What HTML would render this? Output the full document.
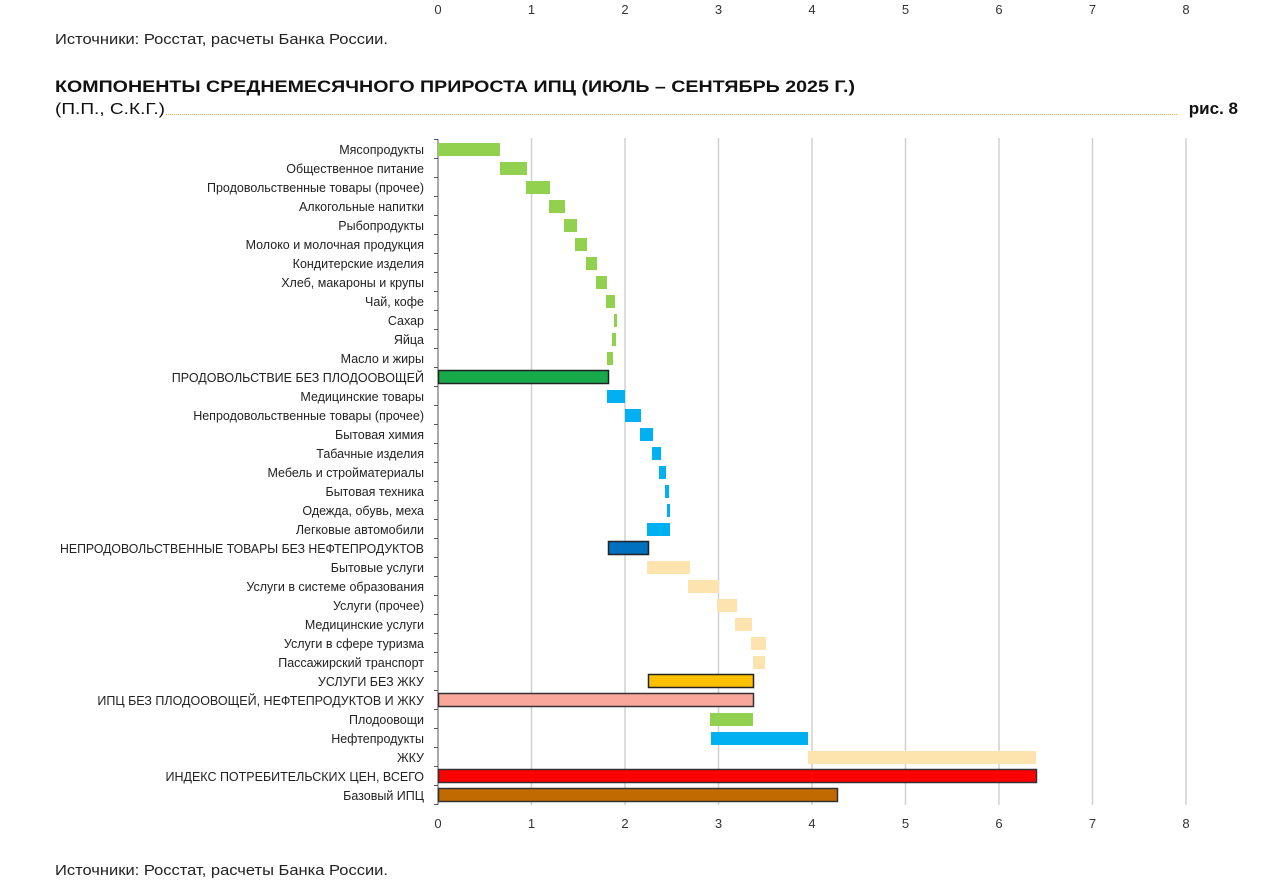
<!DOCTYPE html>
<html><head><meta charset="utf-8"><style>
body{margin:0;background:#fff;width:1280px;height:888px;overflow:hidden;font-family:"Liberation Sans",sans-serif;}
</style></head><body>
<svg width="1280" height="888" xmlns="http://www.w3.org/2000/svg" font-family="Liberation Sans, sans-serif">
<g font-size="13" fill="#333" text-anchor="middle">
<text x="438" y="14">0</text><text x="531.5" y="14">1</text><text x="625" y="14">2</text><text x="718.5" y="14">3</text><text x="812" y="14">4</text><text x="905.5" y="14">5</text><text x="999" y="14">6</text><text x="1092.5" y="14">7</text><text x="1186" y="14">8</text>
</g>
<text x="55" y="44" font-size="14.5" fill="#222" textLength="333" lengthAdjust="spacingAndGlyphs">Источники: Росстат, расчеты Банка России.</text>
<text x="55" y="92" font-size="17" font-weight="bold" fill="#111" textLength="800" lengthAdjust="spacingAndGlyphs">КОМПОНЕНТЫ СРЕДНЕМЕСЯЧНОГО ПРИРОСТА ИПЦ (ИЮЛЬ – СЕНТЯБРЬ 2025 Г.)</text>
<text x="55" y="114" font-size="16" fill="#111" textLength="110" lengthAdjust="spacingAndGlyphs">(П.П., С.К.Г.)</text>
<line x1="166" y1="114.5" x2="1178" y2="114.5" stroke="#e8a848" stroke-width="1" stroke-dasharray="1,1"/>
<text x="1238" y="114" font-size="17" font-weight="bold" fill="#111" text-anchor="end">рис. 8</text>
<g stroke="#d0d0d0" stroke-width="1.5">
<line x1="531.5" y1="138" x2="531.5" y2="805"/><line x1="625" y1="138" x2="625" y2="805"/><line x1="718.5" y1="138" x2="718.5" y2="805"/><line x1="812" y1="138" x2="812" y2="805"/><line x1="905.5" y1="138" x2="905.5" y2="805"/><line x1="999" y1="138" x2="999" y2="805"/><line x1="1092.5" y1="138" x2="1092.5" y2="805"/><line x1="1186" y1="138" x2="1186" y2="805"/>
</g>
<line x1="438" y1="139" x2="438" y2="805" stroke="#555" stroke-width="1"/>
<path stroke="#555" stroke-width="1" d="M434 139.5h4M434 158.5h4M434 177.5h4M434 196.5h4M434 215.5h4M434 234.5h4M434 253.5h4M434 272.5h4M434 291.5h4M434 310.5h4M434 329.5h4M434 348.5h4M434 367.5h4M434 386.5h4M434 405.5h4M434 424.5h4M434 443.5h4M434 462.5h4M434 481.5h4M434 500.5h4M434 519.5h4M434 538.5h4M434 557.5h4M434 576.5h4M434 595.5h4M434 614.5h4M434 633.5h4M434 652.5h4M434 671.5h4M434 690.5h4M434 709.5h4M434 728.5h4M434 747.5h4M434 766.5h4M434 785.5h4M434 804.5h4"/>
<g font-size="13" fill="#333" text-anchor="middle">
<text x="438" y="828">0</text><text x="531.5" y="828">1</text><text x="625" y="828">2</text><text x="718.5" y="828">3</text><text x="812" y="828">4</text><text x="905.5" y="828">5</text><text x="999" y="828">6</text><text x="1092.5" y="828">7</text><text x="1186" y="828">8</text>
</g>
<text x="55" y="875" font-size="14.5" fill="#222" textLength="333" lengthAdjust="spacingAndGlyphs">Источники: Росстат, расчеты Банка России.</text>
<g>
<rect x="438" y="143" width="62" height="13" fill="#92d050"/>
<rect x="500" y="162" width="27" height="13" fill="#92d050"/>
<rect x="526" y="181" width="24" height="13" fill="#92d050"/>
<rect x="549" y="200" width="16" height="13" fill="#92d050"/>
<rect x="564" y="219" width="13" height="13" fill="#92d050"/>
<rect x="575" y="238" width="12" height="13" fill="#92d050"/>
<rect x="586" y="257" width="11" height="13" fill="#92d050"/>
<rect x="596" y="276" width="11" height="13" fill="#92d050"/>
<rect x="606" y="295" width="9" height="13" fill="#92d050"/>
<rect x="614" y="314" width="3" height="13" fill="#92d050"/>
<rect x="612" y="333" width="4" height="13" fill="#92d050"/>
<rect x="607" y="352" width="6" height="13" fill="#92d050"/>
<rect x="438.5" y="370.5" width="170" height="13" fill="#18a94a" stroke="#222" stroke-width="1.5"/>
<rect x="607" y="390" width="18" height="13" fill="#00b0f0"/>
<rect x="625" y="409" width="16" height="13" fill="#00b0f0"/>
<rect x="640" y="428" width="13" height="13" fill="#00b0f0"/>
<rect x="652" y="447" width="9" height="13" fill="#00b0f0"/>
<rect x="659" y="466" width="7" height="13" fill="#00b0f0"/>
<rect x="665" y="485" width="4" height="13" fill="#00b0f0"/>
<rect x="667" y="504" width="3" height="13" fill="#00b0f0"/>
<rect x="647" y="523" width="23" height="13" fill="#00b0f0"/>
<rect x="608.5" y="541.5" width="40" height="13" fill="#0070c0" stroke="#222" stroke-width="1.5"/>
<rect x="647" y="561" width="43" height="13" fill="#fde3ae"/>
<rect x="688" y="580" width="31" height="13" fill="#fde3ae"/>
<rect x="717" y="599" width="20" height="13" fill="#fde3ae"/>
<rect x="735" y="618" width="17" height="13" fill="#fde3ae"/>
<rect x="751" y="637" width="15" height="13" fill="#fde3ae"/>
<rect x="753" y="656" width="12" height="13" fill="#fde3ae"/>
<rect x="648.5" y="674.5" width="105" height="13" fill="#ffc000" stroke="#222" stroke-width="1.5"/>
<rect x="438.5" y="693.5" width="315" height="13" fill="#f8a79a" stroke="#333" stroke-width="1.5"/>
<rect x="710" y="713" width="43" height="13" fill="#92d050"/>
<rect x="711" y="732" width="97" height="13" fill="#00b0f0"/>
<rect x="808" y="751" width="228" height="13" fill="#fde3ae"/>
<rect x="438.5" y="769.5" width="598" height="13" fill="#ff0000" stroke="#333" stroke-width="1.5"/>
<rect x="438.5" y="788.5" width="399" height="13" fill="#c06a00" stroke="#333" stroke-width="1.5"/>
</g>
<g font-size="12.5" fill="#222" text-anchor="end">
<text x="424" y="154">Мясопродукты</text>
<text x="424" y="173">Общественное питание</text>
<text x="424" y="192">Продовольственные товары (прочее)</text>
<text x="424" y="211">Алкогольные напитки</text>
<text x="424" y="230">Рыбопродукты</text>
<text x="424" y="249">Молоко и молочная продукция</text>
<text x="424" y="268">Кондитерские изделия</text>
<text x="424" y="287">Хлеб, макароны и крупы</text>
<text x="424" y="306">Чай, кофе</text>
<text x="424" y="325">Сахар</text>
<text x="424" y="344">Яйца</text>
<text x="424" y="363">Масло и жиры</text>
<text x="424" y="382">ПРОДОВОЛЬСТВИЕ БЕЗ ПЛОДООВОЩЕЙ</text>
<text x="424" y="401">Медицинские товары</text>
<text x="424" y="420">Непродовольственные товары (прочее)</text>
<text x="424" y="439">Бытовая химия</text>
<text x="424" y="458">Табачные изделия</text>
<text x="424" y="477">Мебель и стройматериалы</text>
<text x="424" y="496">Бытовая техника</text>
<text x="424" y="515">Одежда, обувь, меха</text>
<text x="424" y="534">Легковые автомобили</text>
<text x="424" y="553" textLength="364" lengthAdjust="spacingAndGlyphs">НЕПРОДОВОЛЬСТВЕННЫЕ ТОВАРЫ БЕЗ НЕФТЕПРОДУКТОВ</text>
<text x="424" y="572">Бытовые услуги</text>
<text x="424" y="591">Услуги в системе образования</text>
<text x="424" y="610">Услуги (прочее)</text>
<text x="424" y="629">Медицинские услуги</text>
<text x="424" y="648">Услуги в сфере туризма</text>
<text x="424" y="667">Пассажирский транспорт</text>
<text x="424" y="686">УСЛУГИ БЕЗ ЖКУ</text>
<text x="424" y="705">ИПЦ БЕЗ ПЛОДООВОЩЕЙ, НЕФТЕПРОДУКТОВ И ЖКУ</text>
<text x="424" y="724">Плодоовощи</text>
<text x="424" y="743">Нефтепродукты</text>
<text x="424" y="762">ЖКУ</text>
<text x="424" y="781">ИНДЕКС ПОТРЕБИТЕЛЬСКИХ ЦЕН, ВСЕГО</text>
<text x="424" y="800">Базовый ИПЦ</text>
</g>
</svg>
</body></html>
